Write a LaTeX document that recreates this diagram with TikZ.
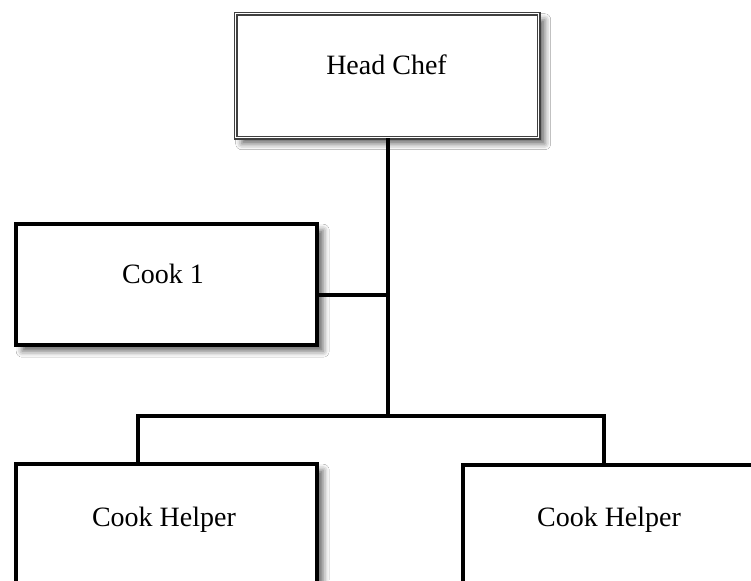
\documentclass[tikz,border=0pt]{standalone}
\usepackage{fontspec}
\setmainfont{Liberation Serif}
\usetikzlibrary{shadows.blur}
\tikzset{
  boxshadow/.style={blur shadow={shadow xshift=6pt, shadow yshift=-6pt, shadow blur radius=6pt, shadow opacity=60}},
  orgbox/.style={draw=black, line width=4.4pt, fill=white, rectangle, anchor=north west, inner sep=0pt, boxshadow},
  headbox/.style={draw=black!75, double=white, double distance=1.4pt, line width=1.4pt, fill=white, rectangle, anchor=north west, inner sep=0pt, boxshadow},
  boxtext/.style={anchor=base, inner sep=0pt, font=\fontsize{28}{34}\selectfont},
  link/.style={draw=black, line width=4pt}
}
\begin{document}
\begin{tikzpicture}[x=1pt,y=-1pt]
\useasboundingbox (0,0) rectangle (751,580);
\clip (0,0) rectangle (751,580);
\fill[white] (0,0) rectangle (751,580);
% boxes
\node[headbox, minimum width=303pt, minimum height=124pt] (head) at (235,13) {};
\node[orgbox, minimum width=301pt, minimum height=121pt] (cook) at (14,222) {};
\node[orgbox, minimum width=301pt, minimum height=170pt] (helperL) at (14,462) {};
\node[orgbox, minimum width=330pt, minimum height=170pt] (helperR) at (461,463) {};
% junction coordinates
\coordinate (jc) at (388,295);
\coordinate (jb) at (388,416);
\coordinate (jl) at (138,416);
\coordinate (jr) at (604,416);
% connectors
\draw[link] (head.south -| jc) -- (jb);
\draw[link] (cook.east |- jc) -- (jc);
\draw[link, line cap=rect] (jl) -- (jr);
\draw[link] (jl) -- (jl |- helperL.north);
\draw[link] (jr) -- (jr |- helperR.north);
% texts
\node[boxtext] (headT) at (386.5,75) {Head Chef};
\node[boxtext] (cookT) at (163,283) {Cook 1};
\node[boxtext] (helperLT) at (164,526) {Cook Helper};
\node[boxtext] (helperRT) at (609,526) {Cook Helper};
\end{tikzpicture}
\end{document}
